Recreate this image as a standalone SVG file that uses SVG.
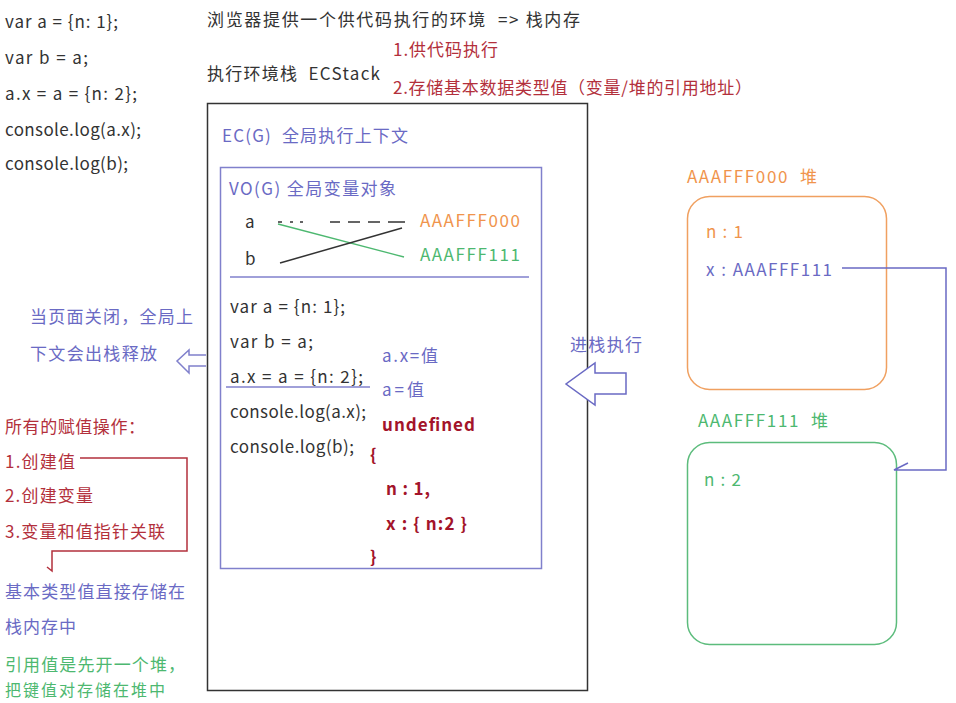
<svg xmlns="http://www.w3.org/2000/svg" width="956" height="703" viewBox="0 0 956 703">
<style>
text{font-family:"Noto Sans CJK SC","Noto Sans",sans-serif;font-size:17px;dominant-baseline:central}
.k{fill:#333}
.p{fill:#6a6ac4}
.r{fill:#b3303c}
.o{fill:#f0944c}
.g{fill:#4db870}
.dr{fill:#a3142a;font-weight:bold}
</style>
<rect width="956" height="703" fill="#ffffff"/>

<g id="code">
<text x="5" y="20" class="k" textLength="113" lengthAdjust="spacing">var a = {n: 1};</text>
<text x="5" y="56" class="k" textLength="83" lengthAdjust="spacing">var b = a;</text>
<text x="5" y="92" class="k" textLength="132" lengthAdjust="spacing">a.x = a = {n: 2};</text>
<text x="5" y="128" class="k" textLength="136" lengthAdjust="spacing">console.log(a.x);</text>
<text x="5" y="162" class="k" textLength="123" lengthAdjust="spacing">console.log(b);</text>
</g>

<g id="header">
<text x="207" y="18" class="k" textLength="373" lengthAdjust="spacing" xml:space="preserve">浏览器提供一个供代码执行的环境  =&gt; 栈内存</text>
<text x="207" y="72" class="k" textLength="173" lengthAdjust="spacing" xml:space="preserve">执行环境栈  ECStack</text>
<text x="393" y="48" class="r" textLength="105" lengthAdjust="spacing">1.供代码执行</text>
<text x="393" y="86" class="r" textLength="359" lengthAdjust="spacing">2.存储基本数据类型值（变量/堆的引用地址）</text>
</g>

<g id="ecstack">
<rect x="207.5" y="103.5" width="380" height="587" fill="none" stroke="#333" stroke-width="1.5"/>
<text x="222" y="134" class="p" textLength="186" lengthAdjust="spacing" xml:space="preserve">EC(G)  全局执行上下文</text>
</g>

<g id="vo">
<rect x="220.5" y="167.5" width="321" height="401" fill="none" stroke="#8080cc" stroke-width="1.5"/>
<text x="229" y="187" class="p" textLength="167" lengthAdjust="spacing">VO(G) 全局变量对象</text>
<text x="245" y="220" class="k">a</text>
<text x="245" y="257" class="k">b</text>
<text x="420" y="219" class="o" textLength="100" lengthAdjust="spacing">AAAFFF000</text>
<text x="420" y="253" class="g" textLength="100" lengthAdjust="spacing">AAAFFF111</text>
<line x1="230" y1="277" x2="529" y2="277" stroke="#8080cc" stroke-width="1.5"/>
<text x="230" y="305" class="k" textLength="115" lengthAdjust="spacing">var a = {n: 1};</text>
<text x="230" y="340" class="k" textLength="83" lengthAdjust="spacing">var b = a;</text>
<text x="230" y="375" class="k" textLength="133" lengthAdjust="spacing">a.x = a = {n: 2};</text>
<line x1="226" y1="387" x2="370" y2="387" stroke="#8080cc" stroke-width="1.5"/>
<text x="230" y="410" class="k" textLength="136" lengthAdjust="spacing">console.log(a.x);</text>
<text x="230" y="445" class="k" textLength="124" lengthAdjust="spacing">console.log(b);</text>
<text x="382" y="354" class="p" textLength="56" lengthAdjust="spacing">a.x=值</text>
<text x="382" y="388" class="p" textLength="42" lengthAdjust="spacing">a=值</text>
<text x="382" y="423" class="dr" textLength="93" lengthAdjust="spacing">undefined</text>
<text x="370" y="453" class="dr">{</text>
<text x="386" y="487" class="dr" textLength="44" lengthAdjust="spacing">n : 1,</text>
<text x="386" y="522" class="dr" textLength="81" lengthAdjust="spacing">x : { n:2 }</text>
<text x="370" y="555" class="dr">}</text>
</g>

<g id="left-notes">
<text x="30" y="315" class="p" textLength="163" lengthAdjust="spacing">当页面关闭，全局上</text>
<text x="30" y="352" class="p" textLength="127" lengthAdjust="spacing">下文会出栈释放</text>
<text x="5" y="425" class="r" textLength="140" lengthAdjust="spacing">所有的赋值操作：</text>
<text x="5" y="460" class="r" textLength="70" lengthAdjust="spacing">1.创建值</text>
<text x="5" y="494" class="r" textLength="88" lengthAdjust="spacing">2.创建变量</text>
<text x="5" y="530" class="r" textLength="160" lengthAdjust="spacing">3.变量和值指针关联</text>
<text x="5" y="590" class="p" textLength="180" lengthAdjust="spacing">基本类型值直接存储在</text>
<text x="5" y="625" class="p" textLength="71" lengthAdjust="spacing">栈内存中</text>
<text x="5" y="663" class="g" textLength="180" lengthAdjust="spacing">引用值是先开一个堆，</text>
<text x="5" y="689" class="g" textLength="160" lengthAdjust="spacing" style="font-size:16px">把键值对存储在堆中</text>
</g>

<g id="heap000">
<text x="687" y="175" class="o" textLength="130" lengthAdjust="spacing" xml:space="preserve">AAAFFF000  堆</text>
<rect x="687.5" y="196.5" width="199" height="193" rx="22" fill="none" stroke="#f0a060" stroke-width="1.5"/>
<text x="706" y="230" class="o" textLength="37" lengthAdjust="spacing">n : 1</text>
<text x="706" y="268" class="p" textLength="126" lengthAdjust="spacing">x : AAAFFF111</text>
</g>

<g id="heap111">
<text x="698" y="419" class="g" textLength="130" lengthAdjust="spacing" xml:space="preserve">AAAFFF111  堆</text>
<rect x="687.5" y="442.5" width="209" height="202" rx="22" fill="none" stroke="#5cbc7c" stroke-width="1.5"/>
<text x="704" y="478" class="g" textLength="37" lengthAdjust="spacing">n : 2</text>
</g>

<g id="push-label">
<text x="570" y="343" class="p" textLength="72" lengthAdjust="spacing">进栈执行</text>
</g>

<g id="connectors" fill="none">
<path d="M278,222 H282 M290,222 H293 M300,222 H303 M330,222 H340 M348,222 H360 M368,222 H380 M388,222 H405" stroke="#333" stroke-width="1.3"/>
<line x1="278" y1="224" x2="404" y2="257" stroke="#4db870" stroke-width="1.3"/>
<line x1="280" y1="263" x2="402" y2="228" stroke="#333" stroke-width="1.5"/>
<path d="M80,458 H187 V551 H52 V571 L47,567" stroke="#b3303c" stroke-width="1.5"/>
<path d="M842,268 H946 V470 H894 L908,463" stroke="#6a6ac4" stroke-width="1.5"/>
<path d="M626,373 H595 V363 L566,384 L595,405 V394 H626 Z" fill="#ffffff" stroke="#6a6ac4" stroke-width="1.5"/>
<path d="M206,355 H189 V350 L177,361 L189,373 V366 H206" fill="#ffffff" stroke="#8080cc" stroke-width="1.5"/>
</g>
</svg>
